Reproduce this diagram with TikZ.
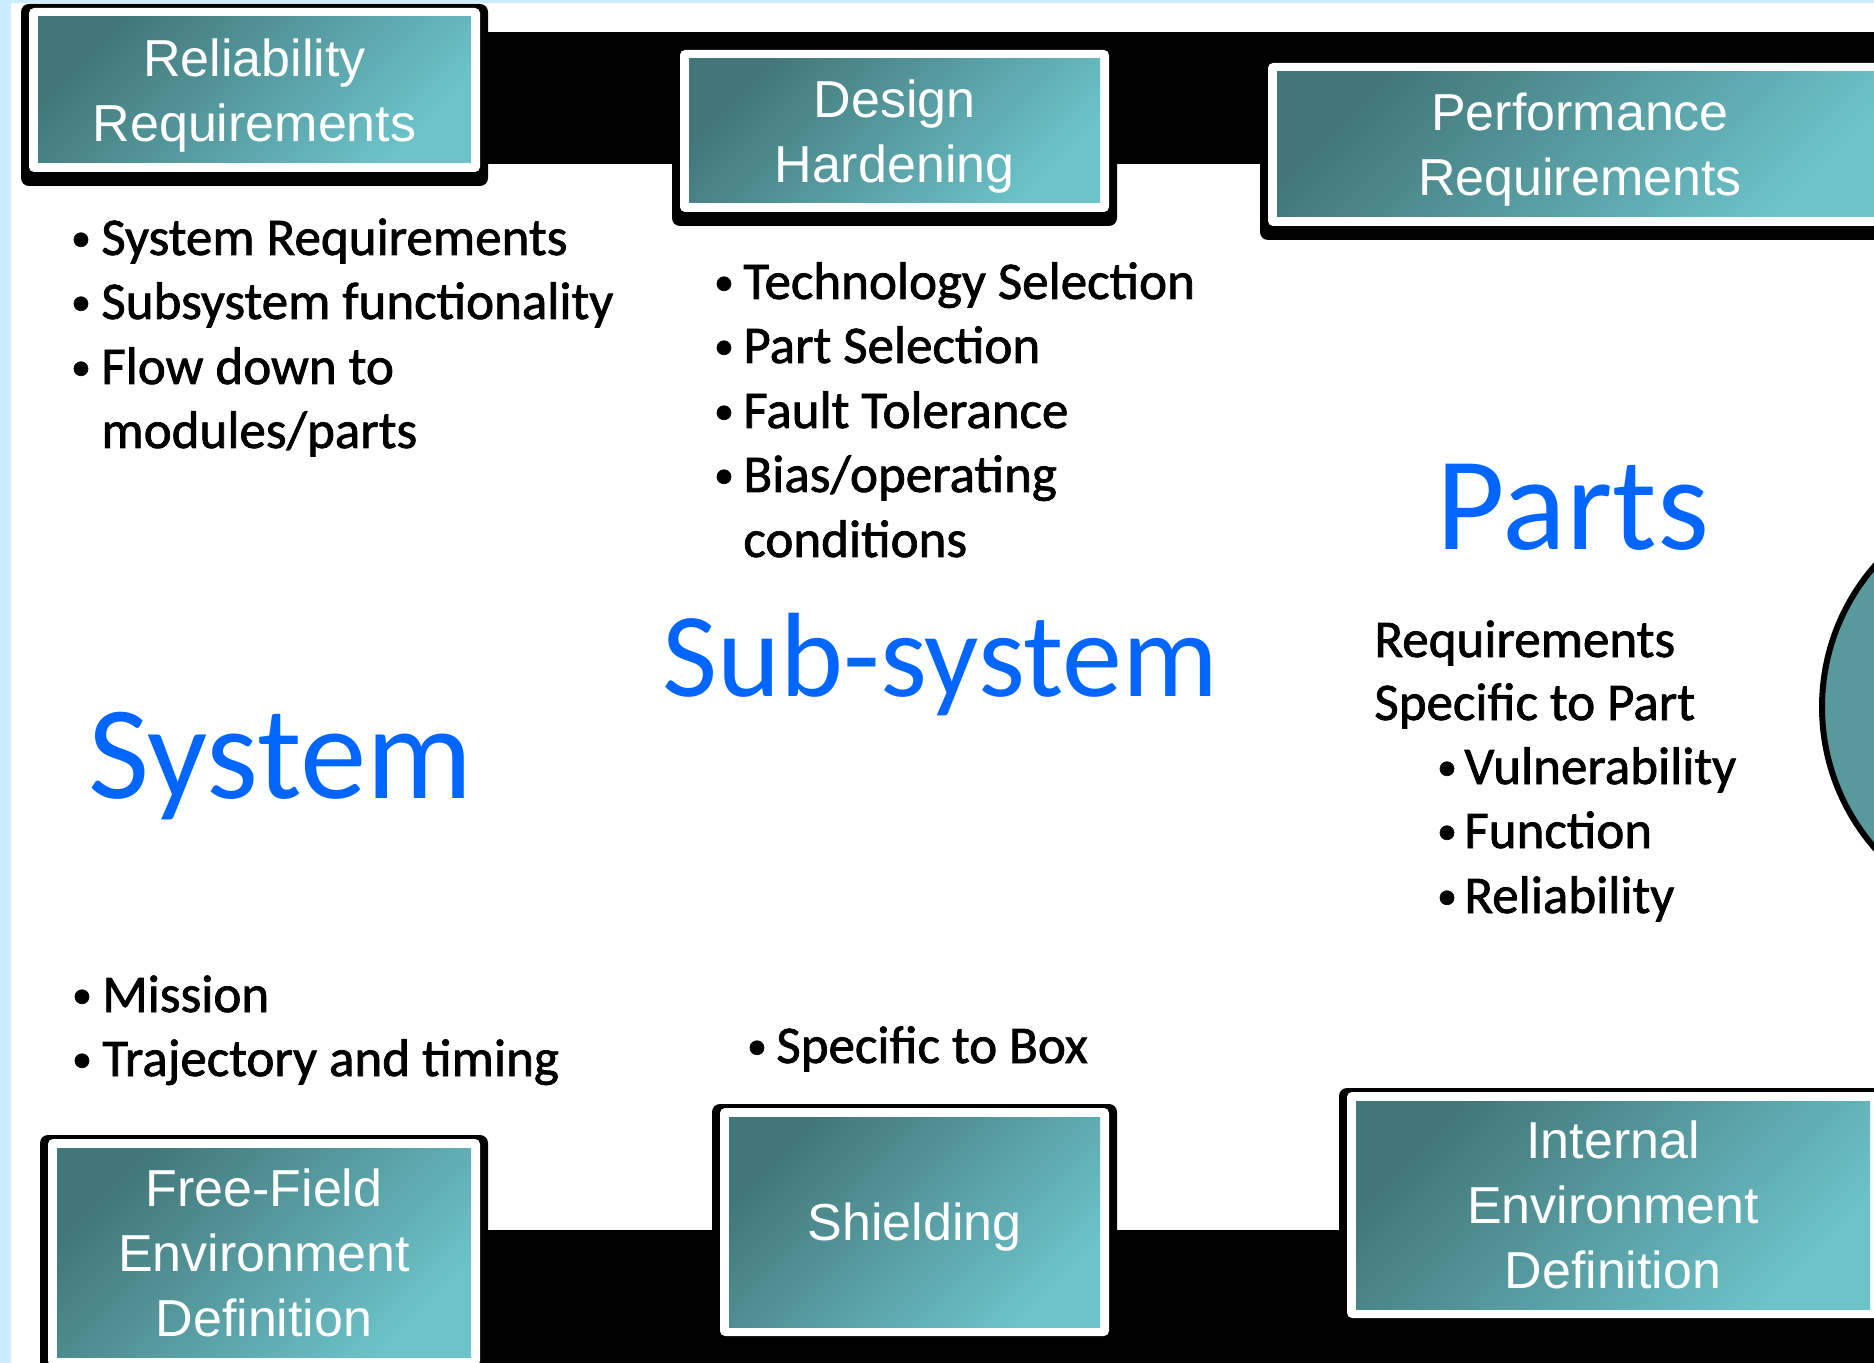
\documentclass[tikz,border=0pt]{standalone}
\usepackage{fontspec}
\newfontfamily\calib{Carlito}
\newfontfamily\calibbody{Carlito}[FakeBold=1.4]
\newfontfamily\arial{Liberation Sans}
\definecolor{pagetint}{RGB}{204,236,255}
\definecolor{tealA}{RGB}{66,118,121}
\definecolor{tealB}{RGB}{108,195,202}
\definecolor{discteal}{RGB}{88,153,157}
\definecolor{titleblue}{RGB}{0,102,255}

% a teal panel: black shadow, white frame, shaded face and its label
\newcommand\panel[6]{%
  \fill[panelshadow] (#2-17,#3-13) rectangle (#4+17,#5+23);
  \fill[panelframe] (#2-9,#3-9) rectangle (#4+9,#5+9);
  \node[tealbox, minimum width={(#4-#2)*0.5pt}, minimum height={(#5-#3)*0.5pt}]
    (#1) at ({(#2+#4)/2},{(#3+#5)/2}) {};
  \node[boxlabel] (#1-label) at (#1.center) {#6};
}

\begin{document}
\begin{tikzpicture}[x=0.5pt,y=-0.5pt,
  panelshadow/.style={black, rounded corners=4pt},
  panelframe/.style={white, rounded corners=2.5pt},
  tealbox/.style={rectangle, inner sep=0pt, top color=tealA, bottom color=tealB, shading angle=45},
  boxlabel/.style={text=white, font=\arial\fontsize{26}{32.5}\selectfont, align=center, inner sep=0pt, text depth=0pt},
  body/.style={font=\calibbody\fontsize{26.5}{32}\selectfont, inner sep=0pt, anchor=base west},
  dot/.style={font=\calibbody\fontsize{20}{24}\selectfont, inner sep=0pt, anchor=base, yshift=2pt},
  bigblue/.style={font=\calib\fontsize{66.5}{72}\selectfont, text=titleblue, inner sep=0pt, anchor=base west},
  midblue/.style={font=\calib\fontsize{60}{66}\selectfont, text=titleblue, inner sep=0pt, anchor=base west},
  band/.style={fill=black}]
\useasboundingbox (0,0) rectangle (1874,1363);
\clip (0,0) rectangle (1874,1363);

% page
\fill[pagetint] (0,0) rectangle (1874,1363);
\fill[white] (11,3) rectangle (1874,1363);

% black bands joining the panels
\fill[band] (400,32) rectangle (1900,164);
\fill[band] (400,1230) rectangle (1900,1380);

% panels
\panel{rel}{38}{17}{471}{163}{Reliability\\Requirements}
\panel{dsgn}{689}{59}{1100}{203}{Design\\Hardening}
\panel{perf}{1277}{72}{1883}{217}{Performance\\Requirements}
\panel{free}{57}{1148}{471}{1357}{Free-Field\\Environment\\Definition}
\panel{shld}{729}{1117}{1100}{1327}{Shielding}
\panel{intl}{1356}{1101}{1870}{1309}{Internal\\Environment\\Definition}

% disc at the right edge
\fill[discteal, draw=black, line width=3pt] (2037,707) circle (215);

% system level
\node[dot] (r1b) at (81,255) {•};
\node[body] (r1) at (101,255) {System Requirements};
\node[dot] (r2b) at (81,319) {•};
\node[body] (r2) at (101,319) {Subsystem functionality};
\node[dot] (r3b) at (81,384) {•};
\node[body] (r3) at (101,384) {Flow down to};
\node[body] (r4) at (101,448) {modules/parts};

\node[bigblue] (sys) at (88,798) {System};

\node[dot] (m1b) at (82,1012) {•};
\node[body] (m1) at (102,1012) {Mission};
\node[dot] (m2b) at (82,1076) {•};
\node[body] (m2) at (102,1076) {Trajectory and timing};

% sub-system level
\node[dot] (d1b) at (724,299) {•};
\node[body] (d1) at (743,299) {Technology Selection};
\node[dot] (d2b) at (724,363) {•};
\node[body] (d2) at (743,363) {Part Selection};
\node[dot] (d3b) at (724,428) {•};
\node[body] (d3) at (743,428) {Fault Tolerance};
\node[dot] (d4b) at (724,492) {•};
\node[body] (d4) at (743,492) {Bias/operating};
\node[body] (d5) at (743,557) {conditions};

\node[midblue] (sub) at (662,697) {Sub-system};

\node[dot] (s1b) at (757,1063) {•};
\node[body] (s1) at (776,1063) {Specific to Box};

% parts level
\node[bigblue] (parts) at (1436,550) {Parts};

\node[body] (p1) at (1374,657) {Requirements};
\node[body] (p2) at (1374,720) {Specific to Part};
\node[dot] (p3b) at (1447,784) {•};
\node[body] (p3) at (1464,784) {Vulnerability};
\node[dot] (p4b) at (1447,848) {•};
\node[body] (p4) at (1464,848) {Function};
\node[dot] (p5b) at (1447,913) {•};
\node[body] (p5) at (1464,913) {Reliability};
\end{tikzpicture}
\end{document}
